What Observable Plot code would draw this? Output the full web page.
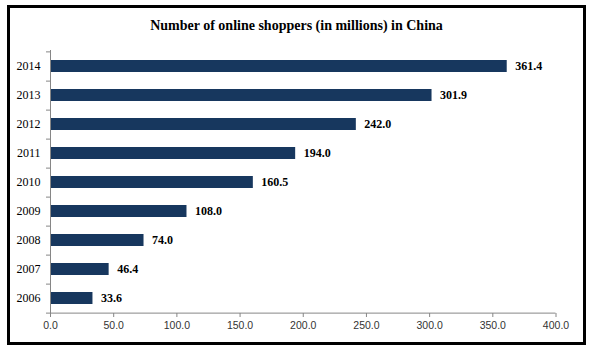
<!DOCTYPE html>
<html>
<head>
<meta charset="utf-8">
<script src="https://cdn.jsdelivr.net/npm/d3@7"></script>
<script src="https://cdn.jsdelivr.net/npm/@observablehq/plot@0.6"></script>
<style>
  html, body { margin: 0; padding: 0; background: #fff; }
  #wrap { position: relative; width: 593px; height: 353px; overflow: hidden; }
  #wrap svg { position: absolute; left: 0; top: 0; }
  #border { position: absolute; left: 7px; top: 5px; width: 579px; height: 340px; box-sizing: border-box; border: 3px solid #000; pointer-events: none; }
  #title { position: absolute; left: 0; width: 593px; top: 18px; text-align: center; font: bold 14px/16px "Liberation Serif", "Times New Roman", serif; color: #000; }
</style>
</head>
<body>
<div id="wrap">
  <div id="title">Number of online shoppers (in millions) in China</div>
  <div id="border"></div>
</div>
<script>
const years = ["2006", "2007", "2008", "2009", "2010", "2011", "2012", "2013", "2014"];
const values = [33.6, 46.4, 74.0, 108.0, 160.5, 194.0, 242.0, 301.9, 361.4];
const xTicks = [0, 50, 100, 150, 200, 250, 300, 350, 400];

const data = years.map((year, i) => ({year, value: values[i]}));

const W = 593, H = 353;
const mTop = 50, mBottom = 40, mLeft = 50, mRight = 37.5;
const step = (H - mTop - mBottom) / years.length;
const gray = "#868686";
const barColor = "#17375E";

const chart = Plot.plot({
  width: W,
  height: H,
  marginTop: mTop,
  marginBottom: mBottom,
  marginLeft: mLeft,
  marginRight: mRight,
  style: {background: "transparent", overflow: "visible"},
  x: {domain: [0, 400], ticks: xTicks, tickFormat: d3.format(".1f"), label: null},
  y: {domain: years.slice().reverse(), paddingInner: 0.59, paddingOuter: 0.295, label: null},
  marks: [
    Plot.barX(data, {x: "value", y: "year", fill: barColor}),
    Plot.ruleX([0], {stroke: gray}),
    Plot.ruleY(["2006"], {dy: step / 2, stroke: gray}),
    Plot.axisY({tickSize: 0, tickPadding: 10, fontSize: 12, fontFamily: "Liberation Serif, Times New Roman, serif", fill: "#000", label: null}),
    Plot.axisY({text: null, tickSize: 4, dy: step / 2, stroke: gray, label: null}),
    Plot.axisY(["2014"], {text: null, tickSize: 4, dy: -step / 2, stroke: gray, label: null}),
    Plot.axisX({ticks: xTicks, tickFormat: d3.format(".1f"), tickSize: 4, tickPadding: 4, stroke: gray, fill: "#333", fontSize: 10.5, fontFamily: "Liberation Sans, Arial, sans-serif", label: null}),
    Plot.text(data, {x: "value", y: "year", text: d => d3.format(".1f")(d.value), dx: 8, textAnchor: "start", fontWeight: "bold", fontSize: 12, fontFamily: "Liberation Serif, Times New Roman, serif", fill: "#000"})
  ]
});

document.getElementById("wrap").prepend(chart);
</script>
</body>
</html>
